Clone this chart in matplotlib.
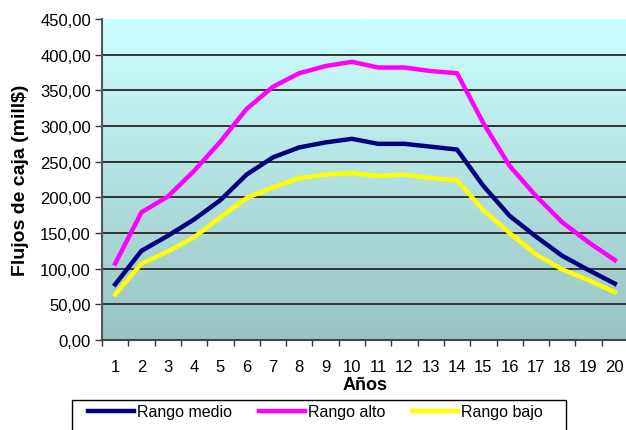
import numpy as np
import matplotlib
matplotlib.use('Agg')
import matplotlib.pyplot as plt
from matplotlib.patches import Rectangle
from matplotlib.colors import LinearSegmentedColormap

plt.rcParams['font.family'] = ['Liberation Sans', 'DejaVu Sans']

# Cash flow ranges per year (mill$)
anios = np.arange(1, 21)
rango_medio = [78, 125, 146, 169, 196, 232, 256, 270, 277, 282,
               275, 275, 271, 267, 216, 174, 145, 118, 98, 79]
rango_alto = [107, 179, 201, 237, 278, 324, 355, 374, 384, 390,
              382, 382, 377, 374, 304, 244, 202, 165, 137, 112]
rango_bajo = [64, 107, 124, 144, 172, 199, 214, 227, 232, 234,
              230, 232, 227, 224, 182, 150, 120, 99, 84, 67]
y_ticks = np.arange(0, 451, 50)

fig = plt.figure(figsize=(6.26, 4.31), dpi=100)
ax = fig.add_axes([102 / 626, 1 - 341 / 431, 526 / 626, 321 / 431])

# vertical gradient for the plot area
cmap = LinearSegmentedColormap.from_list('fondo', ['#99c3c3', '#ccffff'])
grad = np.linspace(0, 1, 256).reshape(-1, 1)
ax.imshow(grad, cmap=cmap, aspect='auto', origin='lower',
          extent=[0, 1, 0, 1], transform=ax.transAxes, zorder=0)

for y in y_ticks[1:-1]:
    ax.axhline(y, color='#333333', lw=1.4, zorder=1)

ax.plot(anios, rango_medio, color='#000080', lw=3.2, label='Rango medio', zorder=3)
ax.plot(anios, rango_alto, color='#ff00ff', lw=3.2, label='Rango alto', zorder=3)
ax.plot(anios, rango_bajo, color='#ffff00', lw=3.2, label='Rango bajo', zorder=3)

ax.set_xlim(0.5, 20.5)
ax.set_ylim(0, 450)
ax.set_yticks(y_ticks)
ax.set_yticklabels([f'{v:.2f}'.replace('.', ',') for v in y_ticks], fontsize=12)
ax.set_xticks(anios)
ax.set_xticklabels([str(a) for a in anios], fontsize=12)
ax.set_xticks(np.arange(0.5, 21, 1), minor=True)
ax.tick_params(axis='x', which='major', length=0, pad=14)
ax.tick_params(axis='x', which='minor', length=4, width=1, color='#333333')
ax.tick_params(axis='y', length=5, width=1, color='#333333', pad=3)

for side in ['top', 'right']:
    ax.spines[side].set_visible(False)
ax.spines['left'].set_color('#555555')
ax.spines['left'].set_linewidth(1.5)
ax.spines['bottom'].set_color('#444444')
ax.spines['bottom'].set_linewidth(1.5)

ax.set_xlabel('Años', fontsize=13, fontweight='bold', labelpad=1)
ax.set_ylabel('Flujos de caja (mill$)', fontsize=14, fontweight='bold', labelpad=8)

# legend box below the chart
fig.patches.append(Rectangle((72 / 626, -0.05), (566 - 72) / 626, 0.05 + 30 / 431,
                             transform=fig.transFigure, facecolor='white',
                             edgecolor='black', lw=1))
fig.legend(loc='center left', bbox_to_anchor=(88 / 626, 1 - 413 / 431), ncol=3,
           frameon=False, fontsize=11.5, handlelength=2.9, handletextpad=0.15,
           columnspacing=1.7, borderpad=0, borderaxespad=0)

fig.savefig('out.png', dpi=100)
